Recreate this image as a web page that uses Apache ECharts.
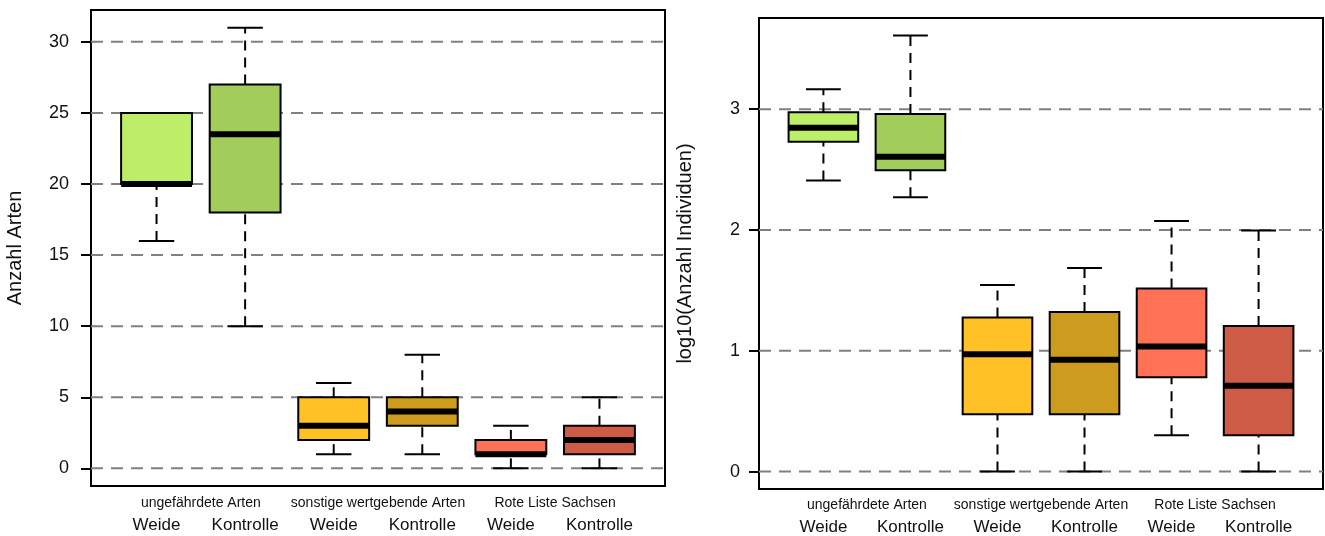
<!DOCTYPE html>
<html>
<head>
<meta charset="utf-8">
<script src="https://cdn.jsdelivr.net/npm/echarts@6/dist/echarts.min.js"></script>
<style>
  html, body { margin: 0; padding: 0; background: #fff; }
  #main { width: 1325px; height: 536px; }
</style>
</head>
<body>
<div id="main"></div>
<script>
// group labels (upper row) and treatment labels (lower row)
const groups = ['ungefährdete Arten', 'sonstige wertgebende Arten', 'Rote Liste Sachsen'];
const treatments = ['Weide', 'Kontrolle', 'Weide', 'Kontrolle', 'Weide', 'Kontrolle'];
const boxColors = ['#BCEE68', '#A2CD5A', '#FFC125', '#CD9B1D', '#FF7256', '#CD5B45'];

// [lower whisker, Q1, median, Q3, upper whisker]
const artenStats = [
  [16, 20, 20, 25, 25],
  [10, 18, 23.5, 27, 31],
  [1, 2, 3, 5, 6],
  [1, 3, 4, 5, 8],
  [0, 1, 1, 2, 3],
  [0, 1, 2, 3, 5]
];
const individuenStats = [
  [2.41, 2.73, 2.845, 2.975, 3.165],
  [2.27, 2.495, 2.605, 2.96, 3.61],
  [0, 0.475, 0.97, 1.275, 1.545],
  [0, 0.475, 0.925, 1.32, 1.685],
  [0.30, 0.78, 1.035, 1.515, 2.075],
  [0, 0.30, 0.71, 1.205, 1.995]
];
const artenTicks = [0, 5, 10, 15, 20, 25, 30];
const individuenTicks = [0, 1, 2, 3];

const fontFamily = 'Liberation Sans, Arial, sans-serif';
const chart = echarts.init(document.getElementById('main'));

function renderBox(params, api) {
  const x = api.value(0);
  const low = api.coord([x, api.value(1)]);
  const q1 = api.coord([x, api.value(2)]);
  const med = api.coord([x, api.value(3)]);
  const q3 = api.coord([x, api.value(4)]);
  const high = api.coord([x, api.value(5)]);
  const half = api.size([0.8, 0])[0] / 2;
  const cx = low[0];
  const whisker = { stroke: '#000', lineWidth: 2, lineDash: [10, 7] };
  const solid = { stroke: '#000', lineWidth: 2 };
  return {
    type: 'group',
    children: [
      { type: 'line', shape: { x1: cx, y1: low[1], x2: cx, y2: q1[1] }, style: whisker },
      { type: 'line', shape: { x1: cx, y1: q3[1], x2: cx, y2: high[1] }, style: whisker },
      { type: 'line', shape: { x1: cx - half / 2, y1: low[1], x2: cx + half / 2, y2: low[1] }, style: solid },
      { type: 'line', shape: { x1: cx - half / 2, y1: high[1], x2: cx + half / 2, y2: high[1] }, style: solid },
      {
        type: 'rect',
        shape: { x: cx - half, y: q3[1], width: half * 2, height: q1[1] - q3[1] },
        style: { fill: boxColors[params.dataIndex], stroke: '#000', lineWidth: 2 }
      },
      { type: 'line', shape: { x1: cx - half, y1: med[1], x2: cx + half, y2: med[1] }, style: { stroke: '#000', lineWidth: 6 } }
    ]
  };
}

function renderGridLine(params, api) {
  const cs = params.coordSys;
  const y = api.coord([1, api.value(0)])[1];
  return {
    type: 'line',
    shape: { x1: cs.x, y1: y, x2: cs.x + cs.width, y2: y },
    style: { stroke: '#808080', lineWidth: 2, lineDash: [12, 8] }
  };
}

function xAxes(gridIndex, labelMargin, groupMargin) {
  return [
    {
      type: 'value', gridIndex: gridIndex, position: 'bottom', min: 0.26, max: 6.74,
      axisLine: { show: false }, axisTick: { show: false }, splitLine: { show: false },
      axisLabel: {
        customValues: [1, 2, 3, 4, 5, 6],
        formatter: v => treatments[Math.round(v) - 1],
        fontSize: 17, color: '#111', fontFamily: fontFamily, margin: labelMargin
      }
    },
    {
      type: 'value', gridIndex: gridIndex, position: 'bottom', min: 0.26, max: 6.74,
      axisLine: { show: false }, axisTick: { show: false }, splitLine: { show: false },
      axisLabel: {
        customValues: [1.5, 3.5, 5.5],
        formatter: v => groups[Math.round((v - 1.5) / 2)],
        fontSize: 14, color: '#111', fontFamily: fontFamily, margin: groupMargin
      }
    }
  ];
}

function yAxis(gridIndex, min, max, ticks, name, labelMargin, nameGap) {
  return {
    type: 'value', gridIndex: gridIndex, min: min, max: max,
    name: name, nameLocation: 'middle', nameRotate: 90, nameGap: nameGap,
    nameTextStyle: { fontSize: 20, color: '#111', fontFamily: fontFamily },
    axisLine: { show: false },
    splitLine: { show: false },
    axisTick: { customValues: ticks, length: 10, lineStyle: { color: '#000', width: 2 } },
    axisLabel: { customValues: ticks, fontSize: 18, color: '#111', fontFamily: fontFamily, margin: labelMargin }
  };
}

const frame = { show: true, borderColor: '#000', borderWidth: 2, backgroundColor: '#fff' };

const option = {
  animation: false,
  backgroundColor: '#fff',
  grid: [
    Object.assign({ left: 91, top: 10, right: 660, bottom: 50 }, frame),
    Object.assign({ left: 759, top: 18, right: 2, bottom: 47 }, frame)
  ],
  xAxis: xAxes(0, 31, 10).concat(xAxes(1, 30, 9)),
  yAxis: [
    yAxis(0, -1.24, 32.24, artenTicks, 'Anzahl Arten', 22, 66),
    yAxis(1, -0.1444, 3.7544, individuenTicks, 'log10(Anzahl Individuen)', 19, 64)
  ],
  series: [
    {
      type: 'custom', xAxisIndex: 0, yAxisIndex: 0, z: 1, silent: true,
      data: artenTicks.map(v => [v]), encode: { y: 0 }, renderItem: renderGridLine
    },
    {
      type: 'custom', xAxisIndex: 0, yAxisIndex: 0, z: 2, clip: false,
      data: artenStats.map((s, i) => [i + 1].concat(s)),
      encode: { x: 0, y: [1, 2, 3, 4, 5] }, renderItem: renderBox
    },
    {
      type: 'custom', xAxisIndex: 2, yAxisIndex: 1, z: 1, silent: true,
      data: individuenTicks.map(v => [v]), encode: { y: 0 }, renderItem: renderGridLine
    },
    {
      type: 'custom', xAxisIndex: 2, yAxisIndex: 1, z: 2, clip: false,
      data: individuenStats.map((s, i) => [i + 1].concat(s)),
      encode: { x: 0, y: [1, 2, 3, 4, 5] }, renderItem: renderBox
    }
  ]
};
chart.setOption(option);
</script>
</body>
</html>
